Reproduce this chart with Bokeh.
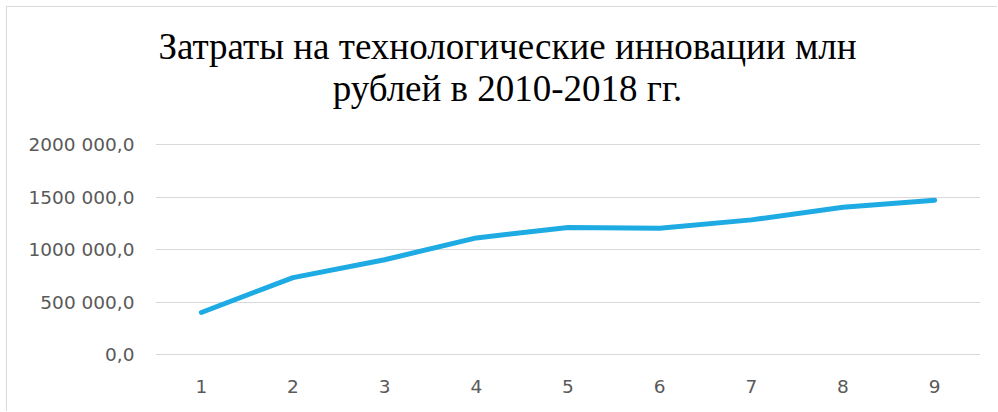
from bokeh.plotting import figure
from bokeh.models import Range1d, FactorRange, FixedTicker, Label
from bokeh.embed import file_html
from bokeh.resources import INLINE

categories = ["1", "2", "3", "4", "5", "6", "7", "8", "9"]
values = [400803.8, 733816.0, 904560.8, 1112429.0, 1211897.0,
          1203638.0, 1284590.0, 1404985.0, 1472822.0]
y_ticks = [0, 500000, 1000000, 1500000, 2000000]
y_tick_labels = ["0,0", "500 000,0", "1000 000,0", "1500 000,0", "2000 000,0"]
title_lines = ["Затраты на технологические инновации млн", "рублей в 2010-2018 гг."]

LABEL_FONT = "DejaVu Sans"
LABEL_COLOR = "#595959"
GRID_COLOR = "#d9d9d9"

# frame spans the full canvas height above the x axis, so that the
# two-line title can be drawn inside it without being clipped
p = figure(width=991, height=405, output_backend="svg", toolbar_location=None,
           x_range=FactorRange(factors=categories),
           y_range=Range1d(-10000, 3312000),
           min_border_left=148, min_border_right=18, min_border_top=0,
           min_border_bottom=57, title=None)
p.styles = {"margin-left": "6px", "margin-top": "6px",
            "border-left": "1px solid #d9d9d9", "border-top": "1px solid #d9d9d9"}
p.outline_line_color = None
p.background_fill_color = "white"
p.border_fill_color = "white"

p.line(x=categories, y=values, line_color="#1eabe3", line_width=5,
       line_cap="round", line_join="round")

p.xgrid.grid_line_color = None
p.ygrid.grid_line_color = GRID_COLOR
p.ygrid.grid_line_width = 1

p.yaxis.ticker = FixedTicker(ticks=y_ticks)
p.yaxis.major_label_overrides = {t: s for t, s in zip(y_ticks, y_tick_labels)}
for ax in (p.xaxis[0], p.yaxis[0]):
    ax.axis_line_color = None
    ax.major_tick_line_color = None
    ax.minor_tick_line_color = None
    ax.major_tick_out = 0
    ax.major_tick_in = 0
    ax.major_label_text_font = LABEL_FONT
    ax.major_label_text_font_size = "18.5px"
    ax.major_label_text_color = LABEL_COLOR
p.yaxis.major_label_standoff = 21
p.xaxis.major_label_standoff = 24

baselines = [309.5, 267.5]
for txt, yb in zip(title_lines, baselines):
    p.add_layout(Label(x=352, y=yb, x_units="screen", y_units="screen", text=txt,
                       text_align="center", text_baseline="alphabetic",
                       text_font="Liberation Serif", text_font_size="37px",
                       text_color="black"))

open("out.html", "w").write(file_html(p, INLINE))
